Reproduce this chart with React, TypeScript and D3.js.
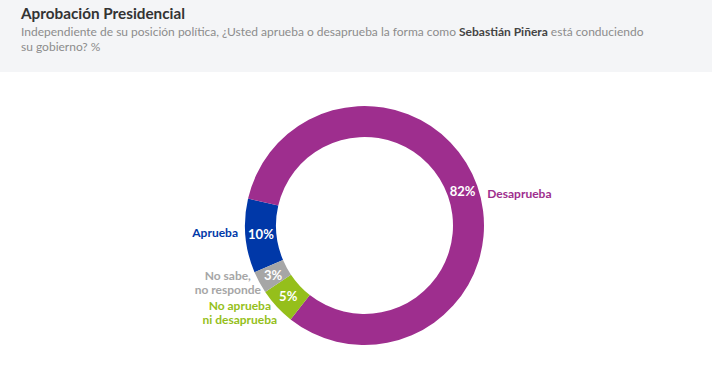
import * as d3 from 'd3';

// datos
const categories = ['Aprueba', 'Desaprueba', 'No aprueba ni desaprueba', 'No sabe, no responde'];
const values = [10, 82, 5, 3];
const labelLines = [['Aprueba'], ['Desaprueba'], ['No aprueba', 'ni desaprueba'], ['No sabe,', 'no responde']];
const colors = ['#0038a8', '#9e2e8e', '#95bf1b', '#a6a6a6'];

const title = 'Aprobación Presidencial';
const subtitleStart = 'Independiente de su posición política, ¿Usted aprueba o desaprueba la forma como ';
const subtitleBold = 'Sebastián Piñera';
const subtitleEnd = ' está conduciendo';
const subtitleLine2 = 'su gobierno? %';

const width = 712;
const height = 365;
const cx = 364.5;
const cy = 225.5;
const outerR = 119.5;
const innerR = 88.5;
const font = 'Lato, "Open Sans", sans-serif';

// desplazamiento de etiquetas externas (anchor, dx, dy desde el centroide exterior)
const labelLayout: Record<string, { anchor: string; dx: number; dy: number }> = {
  Aprueba: { anchor: 'end', dx: 0, dy: -3.5 },
  Desaprueba: { anchor: 'start', dx: 3, dy: 10 },
  'No aprueba ni desaprueba': { anchor: 'middle', dx: -31.5, dy: 1.5 },
  'No sabe, no responde': { anchor: 'middle', dx: -25, dy: -3 },
};

const App = () => {
  const pie = d3
    .pie<number>()
    .sort(null)
    .value((d) => d)
    .startAngle((-113 * Math.PI) / 180)
    .endAngle((247 * Math.PI) / 180);
  const arcs = pie(values);
  const arc = d3.arc<d3.PieArcDatum<number>>().innerRadius(innerR).outerRadius(outerR);
  const outerArc = d3.arc<d3.PieArcDatum<number>>().innerRadius(127).outerRadius(127);

  return (
    <svg
      width={width}
      height={height}
      style={{ position: 'absolute', left: 0, top: 0, background: '#fff' }}
      fontFamily={font}
    >
      <rect x={0} y={0} width={width} height={72} fill="#f4f5f7" />
      <text x={21} y={19} fontSize={16} fontWeight="bold" fill="#333" textLength={164} lengthAdjust="spacingAndGlyphs">
        {title}
      </text>
      <text x={21} y={36} fontSize={12} fill="#8c8c8c" style={{ whiteSpace: 'pre' }}>
        {subtitleStart}
        <tspan fontWeight="bold" fill="#444">{subtitleBold}</tspan>
        {subtitleEnd}
      </text>
      <text x={21} y={51} fontSize={12} fill="#8c8c8c">
        {subtitleLine2}
      </text>

      <g transform={`translate(${cx},${cy})`}>
        {arcs.map((a, i) => (
          <path key={categories[i]} d={arc(a) ?? ''} fill={colors[i]} />
        ))}
        {arcs.map((a, i) => {
          const [x, y] = arc.centroid(a);
          return (
            <text
              key={'v' + i}
              x={x}
              y={y}
              dy="0.35em"
              textAnchor="middle"
              fontSize={13}
              fontWeight="bold"
              fill="#fff"
            >
              {values[i]}%
            </text>
          );
        })}
        {arcs.map((a, i) => {
          const [x, y] = outerArc.centroid(a);
          const lay = labelLayout[categories[i]];
          const lines = labelLines[i];
          const lh = 14;
          const y0 = y + lay.dy - ((lines.length - 1) * lh) / 2;
          return (
            <text
              key={'l' + i}
              textAnchor={lay.anchor}
              fontSize={12}
              fontWeight="bold"
              fill={colors[i]}
            >
              {lines.map((t, j) => (
                <tspan key={j} x={x + lay.dx} y={y0 + j * lh} dy="0.35em">
                  {t}
                </tspan>
              ))}
            </text>
          );
        })}
      </g>
    </svg>
  );
};

export default App;
